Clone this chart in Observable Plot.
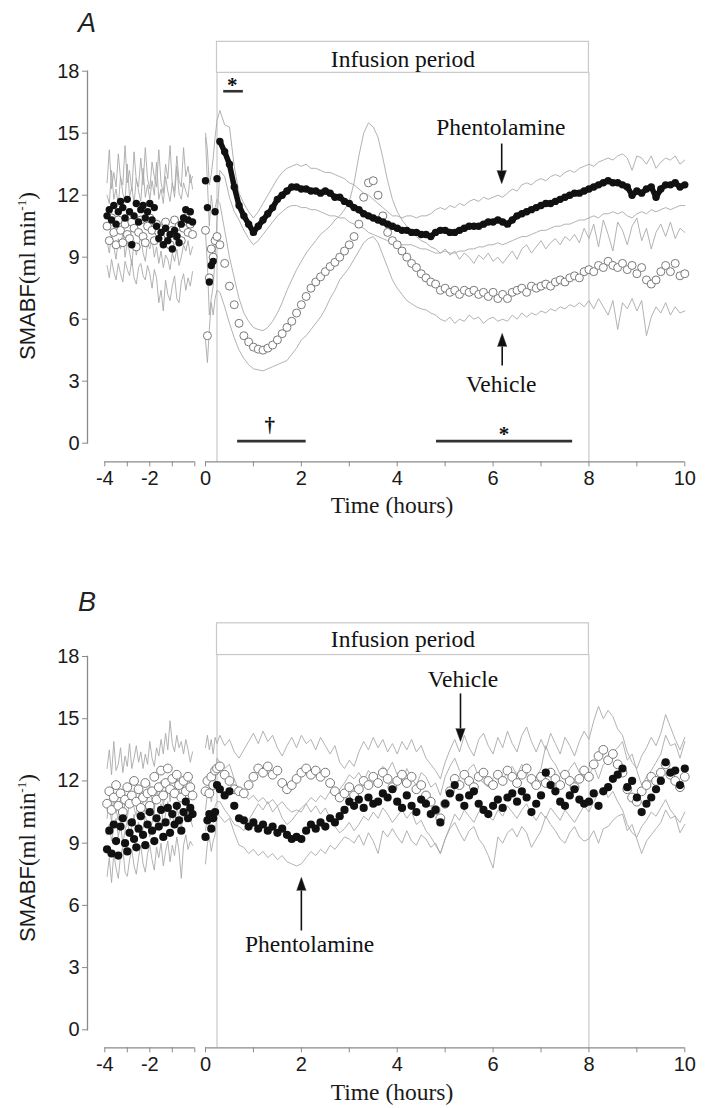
<!DOCTYPE html>
<html>
<head>
<meta charset="utf-8">
<script src="https://cdn.jsdelivr.net/npm/d3@7"></script>
<script src="https://cdn.jsdelivr.net/npm/@observablehq/plot@0.6"></script>
<style>
  html, body { margin: 0; padding: 0; background: #fff; }
  #chart { width: 712px; }
  #chart svg { display: block; }
</style>
</head>
<body>
<div id="chart"></div>
<script>
// ---------- shared axes ----------
const preHours = [-3.9,-3.8,-3.7,-3.6,-3.5,-3.4,-3.3,-3.2,-3.1,-3.0,-2.9,-2.8,-2.7,-2.6,-2.5,-2.4,-2.3,-2.2,-2.1,-2.0,-1.9,-1.8,-1.7,-1.6,-1.5,-1.4,-1.3,-1.2,-1.1,-1.0,-0.9,-0.8,-0.7,-0.6,-0.5,-0.4,-0.3,-0.2,-0.1];
const postHours = [0,0.04,0.08,0.12,0.16,0.2,0.24,
  0.3,0.4,0.5,0.6,0.7,0.8,0.9,
  1,1.1,1.2,1.3,1.4,1.5,1.6,1.7,1.8,1.9,
  2,2.1,2.2,2.3,2.4,2.5,2.6,2.7,2.8,2.9,
  3,3.1,3.2,3.3,3.4,3.5,3.6,3.7,3.8,3.9,
  4,4.1,4.2,4.3,4.4,4.5,4.6,4.7,4.8,4.9,
  5,5.1,5.2,5.3,5.4,5.5,5.6,5.7,5.8,5.9,
  6,6.1,6.2,6.3,6.4,6.5,6.6,6.7,6.8,6.9,
  7,7.1,7.2,7.3,7.4,7.5,7.6,7.7,7.8,7.9,
  8,8.1,8.2,8.3,8.4,8.5,8.6,8.7,8.8,8.9,
  9,9.1,9.2,9.3,9.4,9.5,9.6,9.7,9.8,9.9,
  10];
const xTickValues = [-4,-3,-2,-1,-0.000001,0,1,2,3,4,5,6,7,8,9,10];
const xTickLabels = ["-4","","-2","","","0","","2","","4","","6","","8","","10"];
const yTickValues = [0,3,6,9,12,15,18];
const xAxisSegments = [{from: -4, to: -0.000001}, {from: 0, to: 10}];
const infusionHours = [0.24, 8];
const infusionBox = [{start: 0.24, end: 8}];

// ---------- Panel A data ----------
const aPhentMeanPre = [11.0,11.3,10.8,11.5,10.6,11.2,11.7,11.4,10.9,11.8,11.2,9.6,11.0,11.6,10.7,11.3,11.5,10.9,11.2,11.6,10.8,11.4,10.5,9.9,10.2,9.6,10.4,9.8,10.1,9.4,10.3,10.0,9.7,10.6,10.9,11.3,10.8,11.2,10.7];
const aPhentHiPre = [12.6,14.2,12.3,13.1,12.4,14.0,12.8,12.5,14.4,12.6,13.2,12.2,14.1,12.7,12.4,13.8,12.5,14.3,12.8,12.3,13.6,12.9,12.4,14.2,12.6,12.1,13.5,12.8,14.4,12.5,12.2,13.9,12.7,12.4,14.3,12.9,13.4,12.6,12.9];
const aPhentLoPre = [9.8,9.2,10.1,9.5,8.9,9.9,9.4,10.2,9.0,9.7,9.3,8.6,9.8,9.1,9.6,10.0,9.2,8.8,9.7,9.4,9.9,9.0,9.5,8.7,9.3,8.5,9.1,8.9,8.4,9.2,8.8,9.4,8.6,9.0,9.6,9.3,9.8,9.1,9.5];
const aVehMeanPre = [10.5,9.8,10.9,10.2,9.6,10.8,10.3,9.7,10.6,10.1,9.9,10.7,10.4,9.5,10.2,10.8,10.0,9.7,10.5,10.9,10.3,9.8,10.6,10.2,9.9,10.4,10.7,10.1,9.6,10.3,10.8,10.0,10.5,9.8,10.4,10.9,10.2,10.6,10.1];
const aVehHiPre = [12.0,11.6,13.2,11.8,12.3,11.5,12.9,12.1,11.7,13.5,11.9,12.4,11.6,12.8,12.2,11.7,13.3,11.9,12.5,11.8,12.7,12.0,13.6,11.8,12.3,11.6,12.9,12.2,11.7,12.6,11.9,13.4,12.1,11.8,12.6,12.2,11.9,13.0,12.3];
const aVehLoPre = [8.6,8.0,8.9,8.3,7.9,8.7,8.2,7.8,8.8,8.4,8.1,8.9,8.0,7.7,8.5,8.7,8.1,7.9,8.6,8.2,7.5,8.4,8.0,6.8,7.4,6.4,7.9,7.2,6.9,7.6,8.1,7.0,6.8,7.8,8.2,7.4,8.0,7.6,8.3];

const aPhentMean = [12.7,11.4,7.8,8.6,8.8,11.2,12.8,
  14.6,14.1,13.5,12.4,11.5,11.0,10.6,
  10.2,10.5,10.8,11.1,11.4,11.8,12.0,12.2,12.4,12.4,
  12.3,12.3,12.2,12.2,12.1,12.2,12.1,11.9,11.9,11.7,
  11.6,11.4,11.3,11.1,11.0,10.9,10.8,10.7,10.6,10.5,
  10.4,10.3,10.3,10.2,10.2,10.1,10.1,10.0,10.2,10.3,
  10.3,10.2,10.2,10.3,10.4,10.5,10.5,10.5,10.6,10.7,
  10.7,10.8,10.7,10.6,10.8,11.0,11.1,11.2,11.3,11.4,
  11.5,11.6,11.6,11.7,11.8,11.9,12.0,12.1,12.1,12.2,
  12.3,12.4,12.5,12.6,12.7,12.6,12.6,12.5,12.4,12.0,
  12.2,12.1,12.3,12.4,11.9,12.3,12.5,12.5,12.6,12.4,
  12.5];
const aPhentHi = [15.0,14.2,12.5,13.0,13.8,14.8,15.6,
  16.1,15.4,15.3,13.4,12.1,11.6,11.2,
  10.9,11.2,11.6,12.0,12.4,12.8,13.1,13.3,13.4,13.5,
  13.4,13.5,13.3,13.3,13.2,13.1,13.1,13.0,12.9,12.8,
  12.6,12.5,12.3,12.1,12.0,11.8,11.6,11.4,11.2,11.0,
  11.0,10.9,11.0,11.0,10.9,11.0,11.0,11.1,11.3,11.4,
  11.3,11.5,11.4,11.6,11.5,11.7,11.8,11.7,11.9,11.8,
  11.9,12.0,11.9,12.1,12.3,12.2,12.5,12.6,12.5,12.7,
  12.8,12.7,12.9,13.0,12.9,13.1,13.2,13.1,13.3,13.4,
  13.5,13.4,13.6,13.7,13.8,13.7,13.9,14.0,13.8,13.2,
  13.9,13.8,13.5,13.9,13.3,13.6,13.8,13.7,13.9,13.5,
  13.7];
const aPhentLo = [10.2,8.6,6.2,7.0,7.6,9.0,10.8,
  13.2,12.9,11.9,11.2,10.8,10.3,9.9,
  9.6,9.8,10.1,10.4,10.7,11.0,11.2,11.4,11.5,11.5,
  11.4,11.4,11.3,11.3,11.2,11.1,11.0,11.0,10.9,10.9,
  10.7,10.6,10.5,10.4,10.2,10.1,10.0,9.9,9.8,9.8,
  9.7,9.6,9.6,9.6,9.5,9.4,9.4,9.3,9.2,9.2,
  9.3,9.2,9.2,9.3,9.3,9.4,9.4,9.5,9.5,9.6,
  9.6,9.7,9.6,9.7,9.8,9.9,10.0,10.0,10.1,10.2,
  10.3,10.3,10.4,10.5,10.5,10.6,10.6,10.7,10.8,10.8,
  10.9,11.0,10.9,11.1,11.1,11.2,11.1,11.2,11.0,10.9,
  11.1,11.2,11.1,11.3,11.2,11.3,11.4,11.3,11.4,11.5,
  11.5];
const aVehMean = [10.3,5.2,8.0,9.4,9.0,9.8,10.0,
  9.6,8.7,7.6,6.7,5.8,5.2,4.9,
  4.65,4.55,4.5,4.6,4.75,5.0,5.3,5.6,5.9,6.3,
  6.7,7.1,7.5,7.8,8.05,8.3,8.55,8.75,9.0,9.3,
  9.6,10.0,10.6,11.9,12.6,12.7,12.0,11.0,10.2,9.8,
  9.6,9.3,9.0,8.7,8.5,8.2,8.0,7.8,7.7,7.4,
  7.5,7.3,7.4,7.2,7.4,7.3,7.4,7.2,7.3,7.1,
  7.3,7.0,7.2,7.0,7.3,7.4,7.5,7.3,7.6,7.5,
  7.6,7.7,7.6,7.8,7.9,7.8,8.0,8.1,8.0,8.3,
  8.4,8.3,8.6,8.5,8.8,8.6,8.5,8.7,8.4,8.6,
  8.2,8.5,7.9,7.7,7.9,8.3,8.6,8.3,8.7,8.1,
  8.2];
const aVehHi = [14.8,12.6,10.5,12.0,11.2,11.4,11.8,
  11.6,10.3,9.0,8.0,7.0,6.3,5.9,
  5.6,5.5,5.45,5.6,5.9,6.3,6.8,7.4,7.9,8.4,
  8.8,9.2,9.5,9.8,10.1,10.3,10.5,10.8,11.0,11.3,
  11.7,12.6,13.9,15.0,15.5,15.3,14.8,13.8,12.7,11.8,
  11.2,10.8,10.5,10.2,10.0,9.8,9.7,9.5,9.4,9.2,
  9.4,9.1,9.3,8.9,9.2,9.0,8.7,9.1,8.9,9.2,
  8.8,9.0,8.7,9.0,9.3,8.9,9.4,9.6,9.2,9.5,
  9.8,9.4,9.7,9.9,9.6,10.0,9.8,10.1,9.7,10.4,
  9.9,10.6,9.5,10.8,10.1,9.3,10.7,10.3,9.6,10.5,
  10.9,9.8,10.4,9.4,10.2,10.6,10.0,10.7,9.9,10.4,
  10.2];
const aVehLo = [5.0,3.9,5.5,6.8,6.2,7.0,7.4,
  7.3,6.6,5.8,5.1,4.5,4.1,3.8,
  3.6,3.55,3.5,3.6,3.7,3.8,3.9,4.0,4.3,4.6,
  5.0,5.2,5.5,5.8,6.1,6.5,7.0,7.4,7.9,8.2,
  8.5,8.9,9.3,9.7,9.9,10.0,9.7,9.1,8.5,7.9,
  7.5,7.2,6.9,6.75,6.6,6.5,6.45,6.3,6.2,6.0,
  5.9,6.1,5.8,6.0,5.9,6.2,6.0,6.1,5.8,6.0,
  6.1,5.9,6.0,5.9,6.2,6.0,6.3,6.1,6.3,6.2,
  6.4,6.3,6.5,6.4,6.6,6.5,6.7,6.6,6.8,6.6,
  6.9,6.5,7.0,6.6,6.2,6.9,5.5,6.8,6.5,7.0,
  6.4,6.9,5.2,6.1,6.6,6.3,6.8,6.2,6.6,6.3,
  6.4];

// Panel A annotations (x in hours, v in ml/min)
const aNotes = [
  {t: 4.12, v: 18.18, text: "Infusion period"},
  {t: 6.16, v: 14.89, text: "Phentolamine"},
  {t: 6.17, v: 2.47, text: "Vehicle"}
];
const aSymbols = [
  {t: 0.56, v: 16.97, text: "*"},
  {t: 1.34, v: 0.52, text: "†"},
  {t: 6.23, v: 0.13, text: "*"}
];
const aBars = [{from: 0.38, to: 0.79, v: 17.03}, {from: 0.67, to: 2.1, v: 0.1}, {from: 4.82, to: 7.66, v: 0.1}];
const aArrows = [{t: 6.18, from: 14.5, to: 13.19, dir: 180}, {t: 6.19, from: 3.76, to: 4.68, dir: 0}];

// ---------- Panel B data ----------
const bPhentMeanPre = [8.7,9.6,8.5,9.9,9.1,8.4,9.8,10.2,9.0,8.6,9.5,10.0,9.2,8.8,9.7,10.3,9.4,8.9,9.9,10.5,9.6,9.1,10.2,9.8,10.6,9.3,10.0,10.7,9.5,10.4,9.9,10.8,10.1,9.6,10.5,11.0,10.2,10.7,10.4];
const bPhentHiPre = [10.2,11.0,10.0,11.3,10.6,10.1,11.2,11.6,10.5,10.2,11.0,11.4,10.7,10.3,11.1,11.7,10.9,10.4,11.3,11.9,11.0,10.6,11.6,11.2,12.0,10.8,11.5,12.1,11.0,11.8,11.4,12.2,11.6,11.1,11.9,12.4,11.6,12.1,11.8];
const bPhentLoPre = [7.4,8.3,7.1,8.5,7.8,7.3,8.4,8.8,7.6,7.4,8.2,8.7,7.9,7.5,8.3,8.9,8.0,7.6,8.5,8.9,8.2,7.7,8.8,8.3,9.0,7.9,8.6,9.1,8.1,8.9,8.4,9.3,8.6,7.3,8.9,9.4,8.7,9.1,8.9];
const bVehMeanPre = [10.9,11.5,10.6,11.2,11.8,10.8,11.4,10.5,11.1,11.7,10.9,11.3,12.0,11.0,11.6,10.7,11.2,11.9,11.4,10.8,11.5,12.2,11.1,11.7,12.5,11.3,11.9,12.6,11.6,12.1,11.4,12.3,11.8,11.2,12.0,11.5,12.2,11.7,11.3];
const bVehHiPre = [12.6,13.5,12.3,13.9,12.5,12.8,13.6,12.4,13.2,12.7,13.8,12.6,13.1,13.7,12.9,13.4,12.6,13.3,12.8,13.9,13.1,12.7,13.6,13.2,14.0,13.3,14.3,13.5,14.9,13.8,13.4,14.2,13.6,13.9,13.3,14.0,13.5,12.9,13.4];
const bVehLoPre = [9.4,9.9,9.1,9.7,10.2,9.3,9.9,9.0,9.6,10.1,9.4,9.8,10.4,9.5,10.0,9.2,9.7,10.3,9.9,9.3,10.0,10.6,9.6,10.2,10.9,9.8,10.4,11.0,10.1,10.5,9.9,10.7,10.3,9.7,10.5,10.0,10.6,10.2,9.8];

const bPhentMean = [9.3,10.1,10.4,9.7,10.2,10.5,11.8,
  11.6,11.3,11.5,10.8,10.2,10.1,9.8,
  10.0,9.7,9.9,9.6,9.8,9.5,9.7,9.4,9.2,9.3,
  9.2,9.6,9.9,9.7,10.0,9.8,10.2,10.0,10.3,10.6,
  11.0,10.8,11.1,10.7,11.2,10.9,11.0,11.4,11.2,11.6,
  11.0,10.7,11.3,10.8,10.5,11.1,10.9,10.4,10.6,10.0,
  10.9,11.4,11.8,11.2,10.8,11.3,11.5,10.9,10.6,10.4,
  10.8,11.1,10.7,11.2,11.4,11.0,11.5,11.2,10.5,10.9,
  11.3,12.4,11.8,11.5,11.0,10.8,11.3,11.6,11.1,10.9,
  11.0,11.4,10.8,11.5,11.7,12.1,12.3,12.6,11.7,12.0,
  11.2,10.5,10.9,11.2,11.6,12.0,12.9,12.4,12.5,11.8,
  12.6];
const bPhentHi = [10.6,11.4,11.7,11.0,11.5,11.8,13.1,
  12.9,12.6,12.8,12.1,11.5,11.4,11.1,
  11.3,11.0,11.2,10.9,11.1,10.8,11.0,10.7,10.5,10.6,
  10.5,10.9,11.2,11.0,11.3,11.1,11.5,11.3,11.6,11.9,
  12.3,12.1,12.4,12.0,12.5,12.2,12.3,12.7,12.5,12.9,
  12.3,12.0,12.6,12.1,11.8,12.4,12.2,11.7,11.9,11.3,
  12.2,12.7,13.1,12.5,12.1,12.6,12.8,12.2,11.9,11.7,
  12.1,12.4,12.0,12.5,12.7,12.3,12.8,12.5,11.8,12.2,
  12.6,13.7,13.1,12.8,12.3,12.1,12.6,12.9,12.4,12.2,
  12.3,12.7,12.1,12.8,13.0,13.4,13.6,13.9,13.0,13.3,
  12.5,11.8,12.2,12.5,12.9,13.3,14.2,13.7,13.8,13.1,
  13.9];
const bPhentLo = [8.0,9.0,9.3,8.6,9.1,9.4,10.4,
  10.3,10.0,10.2,9.5,8.9,8.8,8.5,
  8.7,8.4,8.6,8.3,8.5,8.2,8.4,8.1,8.0,7.9,
  8.0,8.3,8.6,8.4,8.7,8.5,8.9,8.7,9.0,9.3,
  9.2,9.0,9.4,8.9,9.5,9.1,8.5,9.6,9.3,9.7,
  9.3,9.0,9.6,9.1,8.9,9.4,9.2,8.8,9.0,8.5,
  9.2,9.7,10.0,9.5,9.1,9.6,9.8,9.2,8.9,8.4,
  7.8,9.3,9.0,9.5,9.7,9.3,9.8,9.5,8.8,9.2,
  9.6,10.3,9.9,9.6,9.2,9.0,9.5,9.8,9.3,9.1,
  9.2,9.6,9.0,9.7,9.8,10.1,10.3,10.4,9.6,9.9,
  9.2,8.5,9.1,9.4,9.7,10.0,10.6,10.2,10.3,9.5,
  9.9];
const bVehMean = [11.5,12.0,11.4,12.2,11.8,12.5,12.6,
  12.7,12.3,12.0,11.6,11.5,11.4,11.8,
  12.2,12.6,12.4,12.7,12.3,12.5,11.9,11.6,11.8,12.1,
  12.4,12.6,12.3,12.5,12.2,12.4,11.9,11.5,11.2,11.4,
  11.7,11.3,11.6,12.0,11.8,12.2,11.9,12.4,12.1,11.7,
  12.0,12.3,11.9,12.2,11.6,11.8,11.3,11.0,10.6,10.2,
  10.9,11.5,12.1,11.8,12.3,12.0,11.7,12.2,12.4,12.0,
  11.8,12.3,12.0,12.5,12.2,11.9,12.3,12.6,12.1,11.8,
  12.2,11.9,12.4,12.1,11.8,12.3,12.0,11.7,12.1,12.5,
  12.2,12.8,13.2,13.5,13.0,13.3,12.8,12.4,11.6,11.2,
  11.0,11.5,11.8,12.2,12.0,12.4,12.8,12.3,12.0,11.7,
  12.2];
const bVehHi = [13.6,14.2,13.5,14.0,13.3,14.1,13.8,
  14.2,13.7,14.0,13.4,13.1,13.5,13.9,
  14.3,13.8,14.4,13.9,14.2,13.6,13.2,13.7,14.1,13.6,
  14.2,13.8,14.0,13.5,14.1,13.7,13.3,13.7,12.9,12.6,
  13.0,12.7,13.4,13.9,13.5,14.1,13.6,14.0,13.4,13.8,
  13.3,13.9,13.5,14.0,13.4,13.7,13.1,12.8,12.5,12.1,
  12.9,13.5,14.0,13.4,14.2,13.6,13.2,14.0,14.3,13.7,
  13.3,14.1,13.6,14.4,13.8,13.4,14.2,14.6,13.9,13.4,
  14.0,13.5,14.3,13.8,13.3,14.1,13.7,13.2,13.9,14.4,
  14.0,14.9,15.6,15.0,15.4,15.1,14.5,14.2,13.4,12.9,
  12.6,13.2,13.6,14.1,13.7,14.3,15.2,14.6,14.0,13.5,
  14.1];
const bVehLo = [9.6,10.3,9.8,10.5,10.0,10.8,11.0,
  11.0,10.6,10.3,9.9,9.8,9.6,10.1,
  10.5,10.9,10.6,11.0,10.5,10.8,10.2,9.9,10.1,10.4,
  10.7,10.9,10.5,10.8,10.4,10.7,10.2,9.8,9.5,9.7,
  10.0,9.6,9.9,10.3,10.1,10.5,10.2,10.7,10.4,10.0,
  10.3,10.6,10.2,10.5,9.9,10.1,9.6,9.3,8.9,8.5,
  9.2,9.8,10.4,10.1,10.6,10.3,10.0,10.5,10.7,10.3,
  10.1,10.6,10.3,10.8,10.5,10.2,10.6,10.9,10.4,10.1,
  10.5,10.2,10.7,10.4,10.1,10.6,10.3,10.0,10.4,10.8,
  10.5,11.0,11.4,11.7,11.2,11.5,11.0,10.6,9.9,9.5,
  9.3,9.8,10.1,10.5,10.3,10.7,11.1,10.6,10.3,10.0,
  10.5];

const bNotes = [
  {t: 4.12, v: 18.45, text: "Infusion period"},
  {t: 5.37, v: 16.52, text: "Vehicle"},
  {t: 2.17, v: 3.74, text: "Phentolamine"}
];
const bSymbols = [];
const bBars = [];
const bArrows = [{t: 5.32, from: 16.22, to: 14.53, dir: 180}, {t: 2.0, from: 4.79, to: 6.72, dir: 0}];

// ---------- drawing ----------
function rows(times, values, key) {
  const n = Math.min(times.length, values.length);
  const out = [];
  for (let i = 0; i < n; ++i) out.push({t: times[i], v: values[i], k: key});
  return out;
}
const xTickLabelOf = new Map(xTickValues.map((v, i) => [v, xTickLabels[i]]));
const SERIF = "'Liberation Serif', 'Times New Roman', Times, serif";
const SANS = "'Liberation Sans', Arial, Helvetica, sans-serif";
const AXIS = "#8a8a8a";
const BOX = "#c8c8c8";
const INFUSION_START_INDEX = 7; // first post point after infusion begins (0.3 h)

function panel(cfg) {
  const semRows = [
    ...rows(preHours, cfg.phHiPre, "phHiPre"), ...rows(postHours, cfg.phHi, "phHi"),
    ...rows(preHours, cfg.phLoPre, "phLoPre"), ...rows(postHours, cfg.phLo, "phLo"),
    ...rows(preHours, cfg.vHiPre, "vHiPre"), ...rows(postHours, cfg.vHi, "vHi"),
    ...rows(preHours, cfg.vLoPre, "vLoPre"), ...rows(postHours, cfg.vLo, "vLo")
  ];
  const vehRows = [...rows(preHours, cfg.vPre, "vPre"), ...rows(postHours, cfg.v, "v")];
  const phRows = [...rows(preHours, cfg.phPre, "phPre"), ...rows(postHours, cfg.ph, "ph")];
  const phBand = cfg.phBand ? rows(postHours.slice(INFUSION_START_INDEX), cfg.ph.slice(INFUSION_START_INDEX), "band") : [];

  const svgEl = Plot.plot({
    width: 712,
    height: 554,
    marginTop: cfg.marginTop,
    marginBottom: cfg.marginBottom,
    marginLeft: 87,
    marginRight: 20,
    style: {fontFamily: SANS, fontSize: "19px", color: "#222", background: "#fff", overflow: "visible"},
    x: {type: "linear", domain: [-4, 0, 0, 10], range: [104.3, 194.3, 205, 684.3]},
    y: {domain: [0, 18]},
    marks: [
      Plot.rect(infusionBox, {x1: "start", x2: "end", y1: cfg.boxLo, y2: cfg.boxHi, fill: "none", stroke: BOX, strokeWidth: 1.2}),
      Plot.ruleX(infusionHours, {y1: cfg.boxLo, y2: 0, insetBottom: -cfg.axisDy, stroke: BOX, strokeWidth: 1.2}),
      Plot.frame({anchor: "left", stroke: AXIS, strokeWidth: 1.3}),
      Plot.axisY(yTickValues, {tickSize: 5, tickPadding: 3, fontSize: 20, stroke: AXIS, fill: "#1a1a1a", label: null}),
      Plot.ruleY(xAxisSegments, {y: 0, x1: "from", x2: "to", dy: cfg.axisDy, stroke: AXIS, strokeWidth: 1.3}),
      Plot.axisX(xTickValues, {tickFormat: d => xTickLabelOf.get(d), tickSize: 5, tickPadding: 4, dy: cfg.axisDy, fontSize: 20, stroke: AXIS, fill: "#1a1a1a", label: null}),
      Plot.line(semRows, {x: "t", y: "v", z: "k", stroke: "#a9a9a9", strokeWidth: 0.9}),
      Plot.dot(vehRows, {x: "t", y: "v", r: cfg.rOpen, fill: "white", stroke: "#7a7a7a", strokeWidth: 1}),
      Plot.line(phBand, {x: "t", y: "v", stroke: "#111", strokeWidth: 5.5, strokeLinejoin: "round"}),
      Plot.dot(phRows, {x: "t", y: "v", r: cfg.rFill, fill: "#111", stroke: "none"}),
      Plot.ruleY(cfg.bars, {y: "v", x1: "from", x2: "to", stroke: "#333", strokeWidth: 2.6}),
      Plot.text(cfg.notes, {x: "t", y: "v", text: "text", fontFamily: SERIF, fontSize: 23.5, lineAnchor: "bottom", textAnchor: "middle", fill: "#111"}),
      Plot.text(cfg.symbols, {x: "t", y: "v", text: "text", fontFamily: SERIF, fontSize: 21, fontWeight: "bold", lineAnchor: "bottom", textAnchor: "middle", fill: "#111"}),
      Plot.link(cfg.arrows, {x1: "t", x2: "t", y1: "from", y2: "to", stroke: "#111", strokeWidth: 1.6}),
      Plot.vector(cfg.arrows, {x: "t", y: "to", rotate: "dir", length: 13, r: 4.6, shape: "spike", anchor: "start", fill: "#111", stroke: "#111", strokeWidth: 0.5})
    ]
  });

  const svg = d3.select(svgEl);
  svg.append("text")
    .attr("x", 87).attr("y", cfg.letterY)
    .attr("text-anchor", "middle")
    .attr("font-family", SANS).attr("font-style", "italic").attr("font-size", 27)
    .attr("fill", "#222")
    .text(cfg.letter);
  const yl = svg.append("text")
    .attr("transform", `translate(35,${cfg.yLabelY}) rotate(-90)`)
    .attr("text-anchor", "middle")
    .attr("fill", "#1a1a1a");
  yl.append("tspan").attr("font-family", SANS).attr("font-size", 22).text("SMABF");
  yl.append("tspan").attr("font-family", SERIF).attr("font-size", 23).text("(ml min");
  yl.append("tspan").attr("font-family", SERIF).attr("font-size", 13).attr("dy", -9).text("-1");
  yl.append("tspan").attr("font-family", SERIF).attr("font-size", 23).attr("dy", 9).text(")");
  svg.append("text")
    .attr("x", 392).attr("y", cfg.xLabelY)
    .attr("text-anchor", "middle")
    .attr("font-family", SERIF).attr("font-size", 23.5)
    .attr("fill", "#1a1a1a")
    .text("Time (hours)");
  return svgEl;
}

const chart = document.getElementById("chart");
chart.appendChild(panel({
  marginTop: 70.7, marginBottom: 111.3, axisDy: 18.7, boxLo: 17.92, boxHi: 19.42,
  letter: "A", letterY: 31.5, yLabelY: 276, xLabelY: 513, rOpen: 4, rFill: 3.7, phBand: true,
  phPre: aPhentMeanPre, phHiPre: aPhentHiPre, phLoPre: aPhentLoPre,
  vPre: aVehMeanPre, vHiPre: aVehHiPre, vLoPre: aVehLoPre,
  ph: aPhentMean, phHi: aPhentHi, phLo: aPhentLo,
  v: aVehMean, vHi: aVehHi, vLo: aVehLo,
  notes: aNotes, symbols: aSymbols, bars: aBars, arrows: aArrows
}));
chart.appendChild(panel({
  marginTop: 102, marginBottom: 78.7, axisDy: 18, boxLo: 18.07, boxHi: 19.6,
  letter: "B", letterY: 57, yLabelY: 304, xLabelY: 546, rOpen: 4.4, rFill: 4.1, phBand: false,
  phPre: bPhentMeanPre, phHiPre: bPhentHiPre, phLoPre: bPhentLoPre,
  vPre: bVehMeanPre, vHiPre: bVehHiPre, vLoPre: bVehLoPre,
  ph: bPhentMean, phHi: bPhentHi, phLo: bPhentLo,
  v: bVehMean, vHi: bVehHi, vLo: bVehLo,
  notes: bNotes, symbols: bSymbols, bars: bBars, arrows: bArrows
}));
</script>
</body>
</html>
